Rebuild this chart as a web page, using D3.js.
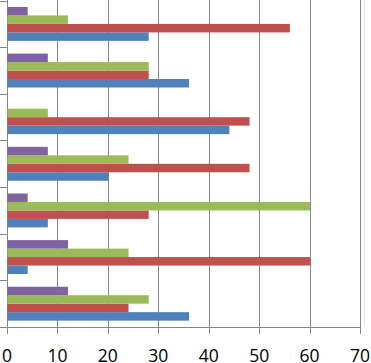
<!DOCTYPE html>
<html>
<head>
<meta charset="utf-8">
<script src="https://cdn.jsdelivr.net/npm/d3@7"></script>
<style>
  body { margin: 0; background: #fff; }
  svg { display: block; }
</style>
</head>
<body>
<div class="canvas"></div>
<script>
const width = 371;
const height = 363;

// groups from bottom to top
const categories = ['1', '2', '3', '4', '5', '6', '7'];
const seriesNames = ['Series1', 'Series2', 'Series3', 'Series4'];
const blueValues = [36, 4, 8, 20, 44, 36, 28];
const redValues = [24, 60, 28, 48, 48, 28, 56];
const greenValues = [28, 24, 60, 24, 8, 28, 12];
const purpleValues = [12, 12, 4, 8, 0, 8, 4];
const xTicks = [0, 10, 20, 30, 40, 50, 60, 70];

const colors = ['#4F81BD', '#C0504D', '#9BBB59', '#8064A2'];
const seriesValues = [blueValues, redValues, greenValues, purpleValues];

const canvas = d3
  .select('.canvas')
  .append('svg')
  .attr('width', width)
  .attr('height', height);

const plotLeft = 7;
const plotRight = 360;
const plotBottom = 327;
const plotTop = 0.6;

// Create Scales
const xScale = d3.scaleLinear().domain([0, 70]).range([plotLeft, plotRight]);
const yScale = d3
  .scaleBand()
  .domain(categories)
  .range([plotBottom, plotTop]);
const bw = yScale.bandwidth();
const edge = (bw * 0.75) / 5.5;
const inner = d3
  .scaleBand()
  .domain(seriesNames)
  .range([bw - edge, edge]);

// faint plot border on the right
canvas
  .append('line')
  .attr('x1', 364.5)
  .attr('x2', 364.5)
  .attr('y1', 0)
  .attr('y2', plotBottom)
  .style('stroke', '#e4e4e4')
  .style('stroke-width', '1px');

// gridlines + bottom ticks
const xAxis = d3
  .axisBottom()
  .scale(xScale)
  .tickValues(xTicks)
  .tickSize(-(plotBottom - 0))
  .tickFormat('');

canvas
  .append('g')
  .attr('id', 'xGrid')
  .attr('transform', `translate(0,${plotBottom})`)
  .call(xAxis);

d3.select('#xGrid > path.domain').style('display', 'none');
d3.selectAll('#xGrid line')
  .attr('y1', 7)
  .style('stroke', '#868686')
  .style('shape-rendering', 'crispEdges');

// category boundary ticks on the left
const catEdges = d3.scaleLinear().domain([0, 7]).range([plotBottom, plotTop]);
const yAxis = d3
  .axisLeft()
  .scale(catEdges)
  .tickValues(d3.range(0, 8))
  .tickSize(7)
  .tickSizeOuter(0)
  .tickFormat('');

canvas
  .append('g')
  .attr('id', 'yAxisG')
  .attr('transform', `translate(${plotLeft},0)`)
  .call(yAxis);

d3.selectAll('#yAxisG line, #yAxisG path')
  .style('stroke', '#868686')
  .style('shape-rendering', 'crispEdges');

// bars
seriesValues.forEach((values, s) => {
  canvas
    .append('g')
    .selectAll('rect')
    .data(values)
    .enter()
    .append('rect')
    .attr('x', xScale(0) + 0.5)
    .attr('y', (d, i) => yScale(categories[i]) + inner(seriesNames[s]))
    .attr('width', (d) => Math.max(0, xScale(d) - xScale(0)))
    .attr('height', inner.bandwidth())
    .style('fill', colors[s]);
});

// bottom axis line
canvas
  .append('line')
  .attr('x1', plotLeft)
  .attr('x2', plotRight)
  .attr('y1', plotBottom + 0.5)
  .attr('y2', plotBottom + 0.5)
  .style('stroke', '#868686')
  .style('stroke-width', '1px');

// tick labels
canvas
  .append('g')
  .selectAll('text')
  .data(xTicks)
  .enter()
  .append('text')
  .attr('x', (d) => xScale(d))
  .attr('y', 362)
  .attr('text-anchor', 'middle')
  .style('font-family', '"Open Sans", sans-serif')
  .style('font-size', '17.5px')
  .style('fill', '#000')
  .text((d) => d);
</script>
</body>
</html>
